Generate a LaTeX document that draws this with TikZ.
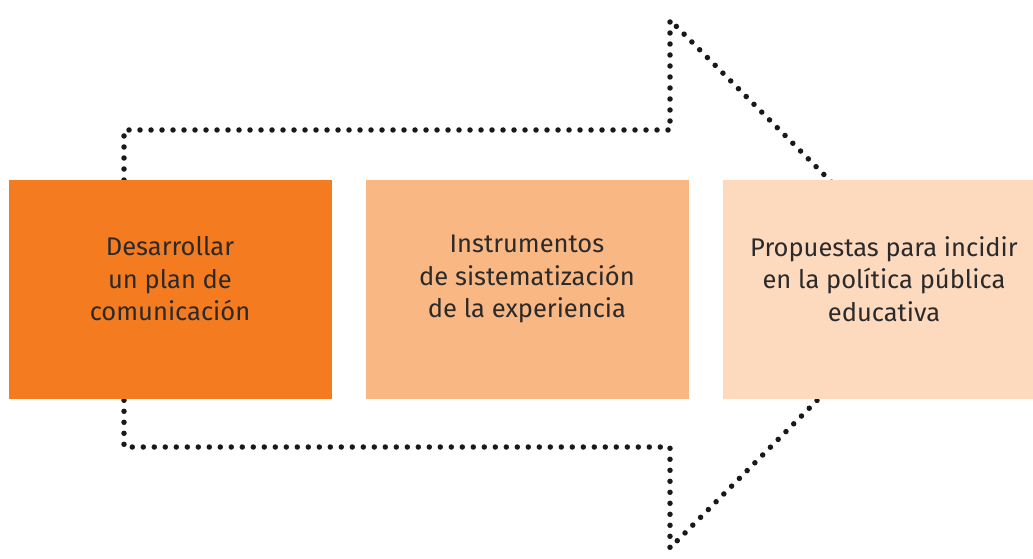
\documentclass[tikz,border=0pt]{standalone}
\usepackage{fontspec}
\setmainfont{Fira Sans}
\definecolor{boxA}{HTML}{F47B20}
\definecolor{boxB}{HTML}{F9B784}
\definecolor{boxC}{HTML}{FDD9BE}
\definecolor{txt}{HTML}{2A2A2A}
\begin{document}
\begin{tikzpicture}[x=1pt,y=-1pt,
  dotline/.style={line width=5.5pt, line cap=round, dash pattern=on 0pt off 11pt, black!90},
  stagebox/.style={minimum width=323pt, minimum height=219pt, inner sep=0pt, draw=none},
  stagetext/.style={text=txt, align=center, font=\fontsize{25.5}{32.5}\selectfont}]
\useasboundingbox (0,0) rectangle (1033,559);
\coordinate (p1) at (124,180);
\coordinate (p2) at (124,130);
\coordinate (p3) at (670,130);
\coordinate (p4) at (670,20);
\coordinate (tip) at (933,284);
\coordinate (p5) at (670,548);
\coordinate (p6) at (670,447);
\coordinate (p7) at (124,447);
\coordinate (p8) at (124,399);
\draw[dotline] (p1) -- (p2) -- (p3) -- (p4) -- (tip) -- (p5) -- (p6) -- (p7) -- (p8);
\node[stagebox, fill=boxA, anchor=north west] (b1) at (9,180) {};
\node[stagebox, fill=boxB, anchor=north west] (b2) at (366,180) {};
\node[stagebox, fill=boxC, anchor=north west, minimum width=311pt] (b3) at (723,180) {};
\node[stagetext] (t1) at (170,279) {Desarrollar\\un plan de\\comunicación};
\node[stagetext] (t2) at (527,279) {Instrumentos\\de sistematización\\de la experiencia};
\node[stagetext] (t3) at (884,279) {Propuestas para incidir\\en la política pública\\educativa};
\end{tikzpicture}
\end{document}
